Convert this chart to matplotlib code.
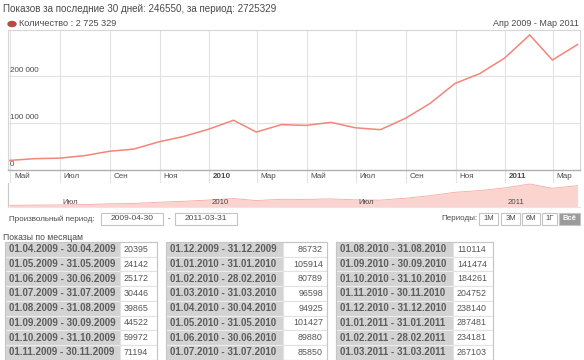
import datetime

import matplotlib
matplotlib.use("Agg")
import matplotlib.pyplot as plt
import matplotlib.dates as mdates
from matplotlib.patches import Rectangle, Ellipse
import pandas as pd

# monthly views, Apr 2009 .. Mar 2011
views = [20395, 24142, 25172, 30446, 39865, 44522, 59972, 71194,
         86732, 105914, 80789, 96598, 94925, 101427, 89880, 85850,
         110114, 141474, 184261, 204752, 238140, 287481, 234181, 267103]
month_ends = pd.date_range("2009-04-30", periods=len(views), freq=pd.offsets.MonthEnd())
period_labels = [f"{d.replace(day=1):%d.%m.%Y} - {d:%d.%m.%Y}" for d in month_ends]

tick_labels = ["Май", "Июл", "Сен", "Ноя", "2010", "Мар",
               "Май", "Июл", "Сен", "Ноя", "2011", "Мар"]
nav_labels = ["Июл", "2010", "Июл", "2011"]
y_ticks = [0, 100000, 200000]
y_tick_labels = ["0", "100 000", "200 000"]
period_buttons = ["1М", "3М", "6М", "1Г", "Всё"]

W, H = 584, 360
FONT = "Liberation Sans"
TXT = "#4a4a4a"
LINE = "#f4857b"

plt.rcParams["font.family"] = [FONT, "DejaVu Sans"]
fig = plt.figure(figsize=(W / 100, H / 100), dpi=100)


def fx(x):
    return x / W


def fy(y):
    return 1 - y / H


def rect_px(x0, y0, x1, y1, **kw):
    fig.add_artist(Rectangle((fx(x0), fy(y1)), fx(x1 - x0), (y1 - y0) / H,
                             transform=fig.transFigure, **kw))


def text_px(x, y, s, **kw):
    kw.setdefault("color", TXT)
    kw.setdefault("va", "center")
    fig.text(fx(x), fy(y), s, **kw)


# header
text_px(3, 9, "Показов за последние 30 дней: 246550, за период: 2725329", fontsize=7.1)
fig.add_artist(Ellipse((fx(12), fy(24)), 8 / W, 5 / H, transform=fig.transFigure,
                       color="#b84a47"))
text_px(19, 24, "Количество : 2 725 329", fontsize=6.6)
text_px(579, 24, "Апр 2009 - Мар 2011", fontsize=6.5, ha="right")

xnum = mdates.date2num(month_ends.to_pydatetime())
x_left = mdates.date2num(datetime.datetime(2009, 4, 28))
x_right = mdates.date2num(datetime.datetime(2011, 4, 3))
tick_dates = [mdates.date2num(datetime.datetime(2009 + (4 + 2 * i) // 12, (4 + 2 * i) % 12 + 1, 1))
              for i in range(len(tick_labels))]

# main chart
ax = fig.add_axes([fx(8), fy(170), fx(572), 140 / H])
ax.plot(xnum, views, color=LINE, lw=1.1, solid_joinstyle="miter")
ax.set_xlim(x_left, x_right)
ax.set_ylim(0, 298000)
ax.set_xticks([])
ax.set_yticks([])
for t in tick_dates:
    ax.axvline(t, color="#e2e2e2", lw=0.8, zorder=0)
    ax.plot([t, t], [0, -0.085], transform=ax.get_xaxis_transform(), clip_on=False,
            color="#e2e2e2", lw=0.8)
for v, lab in zip(y_ticks, y_tick_labels):
    if v:
        ax.axhline(v, color="#e2e2e2", lw=0.8, zorder=0)
    ax.annotate(lab, (0, v), xycoords=("axes fraction", "data"), xytext=(1.5, 1.5),
                textcoords="offset points", fontsize=5.8, color=TXT, va="bottom")
for t, lab in zip(tick_dates, tick_labels):
    ax.annotate(lab, (t, 0), xycoords=("data", "axes fraction"), xytext=(2.5, -5),
                textcoords="offset points", fontsize=5.8, color=TXT, va="center",
                fontweight="bold" if lab.isdigit() else "normal")
for s in ["left", "right", "top"]:
    ax.spines[s].set_color("#d6d6d6")
    ax.spines[s].set_linewidth(0.8)
ax.spines["bottom"].set_color("#b0b0b0")
ax.spines["bottom"].set_linewidth(1.0)

# navigator
nav = fig.add_axes([fx(8), fy(207), fx(572), 24 / H])
nav.fill_between(xnum, views, 0, color="#fcd4cf", lw=0)
nav.plot(xnum, views, color="#f6a9a1", lw=0.6)
nav.set_xlim(x_left, x_right)
nav.set_ylim(0, 300000)
nav.set_xticks([])
nav.set_yticks([])
for s in ["right", "top"]:
    nav.spines[s].set_visible(False)
nav.spines["left"].set_color("#c8c8c8")
nav.spines["bottom"].set_color("#e6e6e6")
nav_dates = [tick_dates[1], tick_dates[4], tick_dates[7], tick_dates[10]]
for t, lab in zip(nav_dates, nav_labels):
    nav.annotate(lab, (t, 0), xycoords=("data", "axes fraction"), xytext=(1.5, 3.5),
                 textcoords="offset points", fontsize=5.6, color=TXT, va="center")

# period controls
text_px(9, 219, "Произвольный период:", fontsize=5.8)
for x0, x1, s in [(101, 163, "2009-04-30"), (175, 237, "2011-03-31")]:
    rect_px(x0, 212.5, x1, 225, facecolor="white", edgecolor="#c4c4c4", lw=0.8)
    text_px((x0 + x1) / 2, 219, s, fontsize=6.0, ha="center")
text_px(169, 219, "-", fontsize=5.8, ha="center")
text_px(477, 218.5, "Периоды:", fontsize=5.8, ha="right")
btn_x = [(479, 498), (501, 520), (522, 540), (542, 557), (559, 580)]
for (x0, x1), lab in zip(btn_x, period_buttons):
    last = lab == "Всё"
    rect_px(x0, 212.5, x1, 224.5, facecolor="#9b9b9b" if last else "white",
            edgecolor="#c4c4c4", lw=0.8)
    text_px((x0 + x1) / 2, 218.5, lab, fontsize=5.5, ha="center",
            color="white" if last else TXT, fontweight="bold" if last else "normal")

# monthly table
text_px(3, 237, "Показы по месяцам", fontsize=6.2)
tables = [(5, 120, 157, "left"), (166, 283, 327, "right"), (336, 453, 493, "left")]
row_h = 14.7
top = 242
for k, (x0, xm, x1, align) in enumerate(tables):
    for r in range(8):
        i = k * 8 + r
        y0 = top + r * row_h
        rect_px(x0, y0, xm, y0 + row_h, facecolor="#d3d3d3", edgecolor="#ededed", lw=0.8)
        rect_px(xm, y0, x1, y0 + row_h, facecolor="white", edgecolor="#e2e2e2", lw=0.8)
        text_px(x0 + 4, y0 + row_h / 2, period_labels[i], fontsize=7.0,
                fontweight="bold", color="#5e5e5e")
        vx = xm + 4 if align == "left" else x1 - 4
        text_px(vx, y0 + row_h / 2, str(views[i]), fontsize=6.4, ha=align, color="#555555")
    rect_px(x0, top, x1, top + 8 * row_h, facecolor="none", edgecolor="#c6c6c6", lw=0.8)

fig.savefig("out.png", dpi=100)
